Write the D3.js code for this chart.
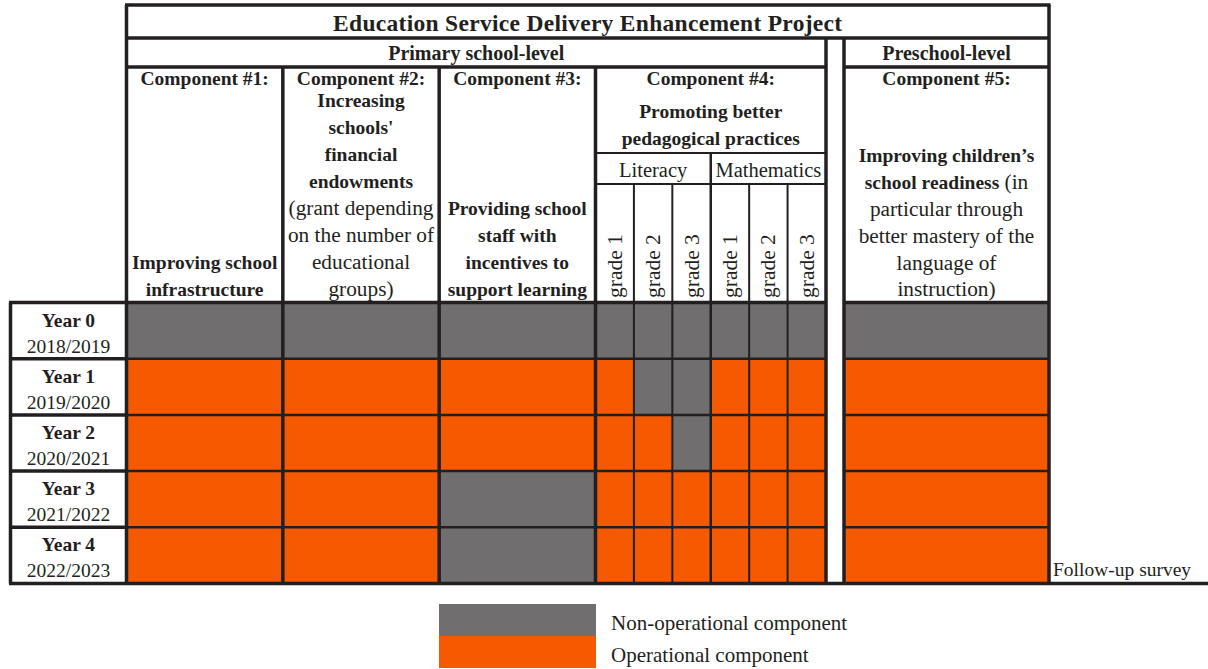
<!DOCTYPE html>
<html>
<head>
<meta charset="utf-8">
<script src="https://cdn.jsdelivr.net/npm/d3@7"></script>
<style>
  body { margin: 0; background: #fff; }
  svg { display: block; }
  text { font-family: "Liberation Serif", "Times New Roman", serif; fill: #231f20; }
</style>
</head>
<body>
<svg id="chart"></svg>
<script>
// --- data ---
const years = ["Year 0", "Year 1", "Year 2", "Year 3", "Year 4"];
const schoolYears = ["2018/2019", "2019/2020", "2020/2021", "2021/2022", "2022/2023"];
const primaryComps = ["C1", "C2", "C3"];
const gradeKeys = ["L1", "L2", "L3", "M1", "M2", "M3"];
const gradeLabels = ["grade 1", "grade 2", "grade 3", "grade 1", "grade 2", "grade 3"];
const columns = ["C1", "C2", "C3", "L1", "L2", "L3", "M1", "M2", "M3", "C5"];
// 1 = operational, 0 = non-operational (same order as columns)
const statusYear0 = [0, 0, 0, 0, 0, 0, 0, 0, 0, 0];
const statusYear1 = [1, 1, 1, 1, 0, 0, 1, 1, 1, 1];
const statusYear2 = [1, 1, 1, 1, 1, 0, 1, 1, 1, 1];
const statusYear3 = [1, 1, 0, 1, 1, 1, 1, 1, 1, 1];
const statusYear4 = [1, 1, 0, 1, 1, 1, 1, 1, 1, 1];
const statusRows = [statusYear0, statusYear1, statusYear2, statusYear3, statusYear4];
const statusLabels = ["Non-operational component", "Operational component"];
const statusColors = ["#706e6f", "#f65a00"];

const title = "Education Service Delivery Enhancement Project";
const levelPrimary = "Primary school-level";
const levelPreschool = "Preschool-level";
const subjects = ["Literacy", "Mathematics"];
const followUp = "Follow-up survey";

// --- layout ---
const W = 1208, H = 669;
const ink = "#231f20";
const thick = 3.5, thin = 2;
const left = 126.5, primRight = 826, preLeft = 844, right = 1049;
const titleTop = 5, titleBottom = 38, levelBottom = 67, headBottom = 302.5, gridBottom = 583.5;
const yearLeft = 10.5;
const fs = 19.5;      // bold headers, year labels
const fsReg = 21.3;   // regular header text

const svg = d3.select("#chart").attr("width", W).attr("height", H);

const rowScale = d3.scaleBand().domain(years).range([headBottom, gridBottom]);
const compScale = d3.scaleBand().domain(primaryComps).range([left, 595.5]);
const gradeScale = d3.scaleBand().domain(gradeKeys).range([595.5, primRight]);

function colSpan(key) {
  if (key === "C5") return [preLeft, right];
  if (primaryComps.includes(key)) return [compScale(key), compScale(key) + compScale.bandwidth()];
  return [gradeScale(key), gradeScale(key) + gradeScale.bandwidth()];
}

// cells
const cells = [];
years.forEach((y, i) => columns.forEach((c, j) => cells.push({year: y, col: c, v: statusRows[i][j]})));

svg.append("g").selectAll("rect").data(cells).join("rect")
  .attr("x", d => colSpan(d.col)[0])
  .attr("y", d => rowScale(d.year))
  .attr("width", d => colSpan(d.col)[1] - colSpan(d.col)[0])
  .attr("height", rowScale.bandwidth())
  .attr("fill", d => statusColors[d.v]);

// lines
const lines = svg.append("g").attr("stroke", ink).attr("fill", "none");
function line(x1, y1, x2, y2, w) {
  lines.append("line").attr("x1", x1).attr("y1", y1).attr("x2", x2).attr("y2", y2).attr("stroke-width", w);
}
// title box
line(left - 1.5, titleTop, right + 1.5, titleTop, thick);
line(left, titleTop, left, gridBottom, thick);
line(right, titleTop, right, gridBottom, thick);
line(left, titleBottom, right, titleBottom, thick);
line(left, levelBottom, primRight, levelBottom, thick);
line(preLeft, levelBottom, right, levelBottom, thick);
line(primRight, titleBottom, primRight, gridBottom, thick);
line(preLeft, titleBottom, preLeft, gridBottom, thick);
// component separators
primaryComps.slice(1).forEach(c => line(compScale(c), levelBottom, compScale(c), gridBottom, thick));
line(595.5, levelBottom, 595.5, gridBottom, thick);
// component 4 sub header
line(595.5, 153, primRight, 153, thin);
line(595.5, 184, primRight, 184, thin);
line(gradeScale("M1"), 153, gradeScale("M1"), gridBottom, 2.5);
gradeKeys.filter(k => k !== "L1" && k !== "M1").forEach(k => line(gradeScale(k), 184, gradeScale(k), gridBottom, thin));
// rows
line(yearLeft - 1.5, headBottom, primRight, headBottom, thick);
line(preLeft, headBottom, right, headBottom, thick);
years.slice(1).forEach(y => {
  line(yearLeft, rowScale(y), left, rowScale(y), thick);
  line(left, rowScale(y), primRight, rowScale(y), 2.5);
  line(preLeft, rowScale(y), right, rowScale(y), 2.5);
});
line(yearLeft, headBottom, yearLeft, gridBottom, thick);
line(yearLeft - 1.5, gridBottom, W, gridBottom, thick);

// text helpers
function label(x, y, parts, opts = {}) {
  const t = svg.append("text")
    .attr("x", x).attr("y", y)
    .attr("text-anchor", opts.anchor || "middle");
  parts.forEach(p => t.append("tspan").text(p[0])
    .style("font-weight", p[1] ? "bold" : "normal")
    .style("font-size", (opts.size || (p[1] ? fs : fsReg)) + "px"));
  return t;
}
function block(x, baselines, rows) {
  rows.forEach((r, i) => label(x, baselines[i], r));
}

label((left + right) / 2, 31, [[title, true]], {size: 23.5}).style("letter-spacing", "0.3px");
label((left + primRight) / 2, 60, [[levelPrimary, true]], {size: 20});
label((preLeft + right) / 2, 60, [[levelPreschool, true]], {size: 20});

const cx = c => compScale(c) + compScale.bandwidth() / 2;
const compTop = 85;
block(cx("C1"), [compTop, 269, 296], [
  [["Component #1:", true]], [["Improving school", true]], [["infrastructure", true]]
]);
block(cx("C2"), [compTop, 107, 134, 161, 188, 215, 242, 269, 296], [
  [["Component #2:", true]], [["Increasing", true]], [["schools'", true]], [["financial", true]],
  [["endowments", true]], [["(grant depending", false]], [["on the number of", false]],
  [["educational", false]], [["groups)", false]]
]);
block(cx("C3"), [compTop, 215, 242, 269, 296], [
  [["Component #3:", true]], [["Providing school", true]], [["staff with", true]],
  [["incentives to", true]], [["support learning", true]]
]);
block((595.5 + primRight) / 2, [compTop, 118, 145], [
  [["Component #4:", true]], [["Promoting better", true]], [["pedagogical practices", true]]
]);
label((595.5 + gradeScale("M1")) / 2, 177, [[subjects[0], false]], {size: 20.5});
label((gradeScale("M1") + primRight) / 2, 177, [[subjects[1], false]], {size: 20.5});
gradeKeys.forEach((k, i) => {
  const gx = gradeScale(k) + gradeScale.bandwidth() / 2 + 7;
  svg.append("text")
    .attr("transform", `translate(${gx},298) rotate(-90)`)
    .attr("text-anchor", "start")
    .style("font-size", "21.5px")
    .text(gradeLabels[i]);
});
block((preLeft + right) / 2, [compTop, 162, 189, 216, 243, 270, 296], [
  [["Component #5:", true]], [["Improving children\u2019s", true]],
  [["school readiness", true], [" (in", false]], [["particular through", false]],
  [["better mastery of the", false]], [["language of", false]], [["instruction)", false]]
]);

// year labels
years.forEach((y, i) => {
  const top = rowScale(y);
  label((yearLeft + left) / 2, top + 24, [[y, true]]);
  label((yearLeft + left) / 2, top + 50, [[schoolYears[i], false]], {size: 19.5});
});

label(1053, 576, [[followUp, false]], {anchor: "start", size: 19.5});

// legend
const legend = svg.append("g");
statusLabels.forEach((s, i) => {
  legend.append("rect")
    .attr("x", 439).attr("y", 604 + i * 32)
    .attr("width", 157).attr("height", 32)
    .attr("fill", statusColors[i]);
  label(611, 630 + i * 32, [[s, false]], {anchor: "start", size: 21});
});
</script>
</body>
</html>
